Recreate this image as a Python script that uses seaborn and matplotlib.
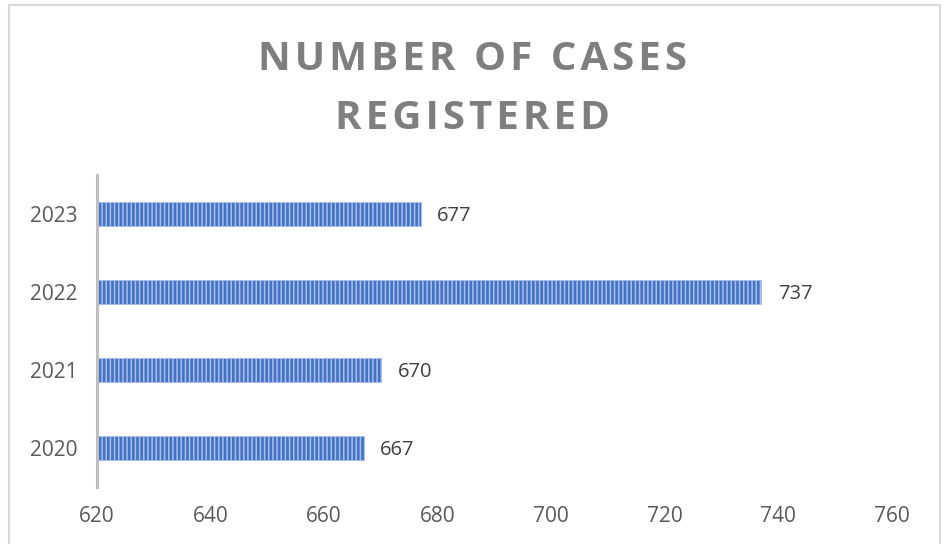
import matplotlib
matplotlib.use("Agg")
import matplotlib.pyplot as plt
import seaborn as sns
import pandas as pd
from matplotlib.patches import Rectangle

# ---- data ----
years = ["2023", "2022", "2021", "2020"]
cases = [677, 737, 670, 667]
x_ticks = [620, 640, 660, 680, 700, 720, 740, 760]
title_lines = ["NUMBER OF CASES", "REGISTERED"]

df = pd.DataFrame({"year": years, "cases": cases})

sns.set_theme(style="white")
plt.rcParams["font.family"] = ["Open Sans", "DejaVu Sans"]
plt.rcParams["hatch.linewidth"] = 1.1

fig = plt.figure(figsize=(9.45, 5.44), dpi=100)
ax = fig.add_axes([97 / 945, (544 - 487) / 544, 795 / 945, 312 / 544])

sns.barplot(data=df, x="cases", y="year", order=years, orient="h",
            color="#4472C4", width=0.31, saturation=1, ax=ax)

for bar in ax.patches:
    bar.set_facecolor("#4472C4")
    bar.set_edgecolor("#A8BFEA")
    bar.set_hatch("||||")
    bar.set_linewidth(0.6)

# value labels
for i, v in enumerate(cases):
    ax.text(v + 2.9, i + 0.03, str(v), va="center", ha="left",
            fontsize=14.5, color="#404040")

ax.set_xlim(620, 760)
ax.set_xticks(x_ticks)
ax.set_xlabel("")
ax.set_ylabel("")
ax.tick_params(axis="x", length=0, pad=14, labelsize=15, labelcolor="#595959")
ax.tick_params(axis="y", length=0, pad=14, labelsize=15, labelcolor="#595959")

for s in ["top", "right", "bottom"]:
    ax.spines[s].set_visible(False)
ax.spines["left"].set_color("#BFBFBF")
ax.spines["left"].set_linewidth(2.2)

# letter-spaced title (hair spaces between letters)
spaced = "\n".join("\u200a".join(line) for line in title_lines)
fig.text(0.5, 1 - 89 / 544, spaced, ha="center", va="center", fontsize=29,
         fontweight="bold", color="#7F7F7F", linespacing=1.65)

# chart frame
fig.patches.append(Rectangle((9 / 945, -0.05), 931 / 945, 1.05 - 5 / 544,
                             transform=fig.transFigure, fill=False,
                             edgecolor="#D9D9D9", linewidth=1.5))

fig.savefig("out.png", dpi=100)
